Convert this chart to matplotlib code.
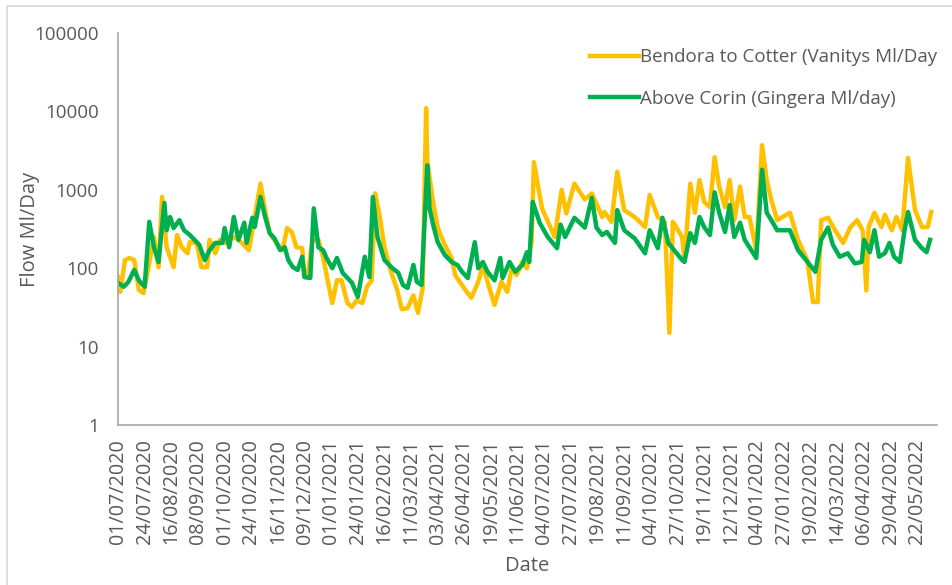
import numpy as np
import matplotlib
matplotlib.use("Agg")
import matplotlib.pyplot as plt
import matplotlib.dates as mdates
from matplotlib.ticker import FixedLocator, FuncFormatter
from matplotlib.patches import Rectangle

plt.rcParams['font.family'] = ['Open Sans', 'DejaVu Sans']

## Flow records, days counted from 1 July 2020

start = np.datetime64('2020-07-01')

bendora_day = [0, 2, 6, 10, 14, 18, 22, 27, 31, 35, 38, 42, 48, 51, 55, 60, 62, 68, 72, 77,
               79, 84, 88, 92, 101, 107, 113, 116, 123, 127, 131, 135, 142, 146, 150, 154, 159, 161, 164, 168,
               173, 177, 181, 185, 189, 193, 198, 202, 206, 211, 215, 219, 222, 226, 230, 236, 241, 245, 250, 255,
               259, 263, 266, 267, 272, 276, 282, 288, 291, 295, 301, 305, 311, 315, 319, 325, 331, 336, 340, 344,
               349, 353, 357, 359, 366, 377, 383, 387, 394, 403, 409, 418, 420, 426, 431, 437, 446, 455, 459, 466,
               472, 476, 479, 487, 489, 494, 498, 502, 506, 511, 515, 519, 524, 528, 532, 537, 541, 545, 551, 556,
               560, 564, 569, 580, 587, 595, 600, 604, 607, 613, 619, 626, 632, 638, 643, 646, 648, 653, 659, 662,
               668, 672, 677, 682, 688, 694, 699, 702]
bendora_flow = [77, 50, 127, 135, 127, 53, 48, 117, 250, 103, 810, 185, 103, 265, 185, 155, 215, 210, 103, 103,
                230, 155, 230, 210, 250, 210, 170, 305, 1200, 550, 280, 230, 170, 325, 290, 185, 180, 77, 87, 230,
                230, 140, 70, 36, 70, 70, 36, 32, 39, 36, 58, 70, 900, 450, 185, 87, 53, 30, 31, 45,
                27, 56, 11000, 2300, 700, 325, 200, 135, 82, 67, 50, 42, 67, 110, 67, 34, 67, 50, 100, 82,
                120, 100, 215, 2250, 580, 250, 1000, 500, 1200, 750, 900, 450, 520, 390, 1700, 550, 450, 335, 860, 450,
                390, 15, 390, 250, 127, 1200, 510, 1330, 700, 600, 2600, 1100, 600, 1330, 410, 1100, 450, 450, 170, 3700,
                1330, 740, 410, 510, 230, 127, 37, 37, 410, 440, 305, 210, 330, 410, 300, 52, 335, 510, 335, 480,
                305, 450, 305, 2550, 550, 335, 335, 520]

corin_day = [0, 5, 9, 14, 18, 23, 27, 31, 35, 40, 42, 45, 48, 53, 57, 62, 70, 75, 79, 84,
             90, 92, 96, 100, 104, 109, 111, 116, 118, 123, 127, 131, 135, 140, 144, 147, 151, 155, 159, 161,
             166, 169, 173, 177, 180, 185, 189, 194, 202, 207, 213, 217, 220, 224, 230, 236, 242, 246, 250, 255,
             258, 262, 267, 269, 272, 276, 282, 288, 293, 297, 302, 308, 311, 315, 319, 325, 330, 332, 338, 343,
             349, 353, 355, 358, 364, 371, 379, 382, 386, 394, 403, 409, 413, 418, 422, 429, 431, 437, 446, 455,
             459, 466, 470, 475, 487, 489, 494, 498, 502, 506, 511, 515, 519, 524, 528, 532, 537, 541, 551, 556,
             560, 564, 569, 580, 587, 602, 607, 613, 617, 623, 630, 636, 642, 644, 649, 653, 657, 662, 666, 670,
             675, 679, 682, 688, 694, 698, 701]
corin_flow = [65, 58, 67, 95, 70, 58, 390, 185, 120, 680, 305, 450, 325, 410, 305, 265, 200, 127, 170, 210,
              210, 325, 185, 450, 230, 380, 210, 440, 335, 810, 450, 280, 240, 170, 185, 127, 103, 95, 140, 77,
              75, 580, 185, 170, 135, 100, 135, 87, 65, 43, 140, 77, 810, 250, 127, 103, 87, 61, 56, 110,
              67, 61, 2050, 580, 360, 215, 148, 120, 110, 90, 75, 215, 100, 120, 90, 70, 135, 75, 120, 90,
              110, 160, 120, 700, 380, 250, 180, 360, 250, 440, 330, 790, 330, 265, 290, 210, 550, 305, 240, 155,
              305, 180, 440, 210, 127, 120, 280, 210, 450, 335, 265, 930, 510, 290, 640, 250, 380, 230, 135, 1800,
              510, 410, 305, 305, 170, 90, 230, 330, 200, 140, 155, 115, 120, 230, 160, 305, 140, 155, 210, 140,
              120, 305, 520, 230, 180, 160, 230]

tick_step = 23   # days between date labels
axis_days = 707

bendora_dates = start + np.array(bendora_day, dtype='timedelta64[D]')
corin_dates = start + np.array(corin_day, dtype='timedelta64[D]')

fig = plt.figure(figsize=(9.52, 5.85), dpi=100)
ax = fig.add_axes([118 / 952, 1 - 425 / 585, (937 - 118) / 952, (425 - 33) / 585])

ax.plot(bendora_dates, bendora_flow, color='#FFC000', lw=3.2, solid_joinstyle='round',
        label='Bendora to Cotter (Vanitys Ml/Day')
ax.plot(corin_dates, corin_flow, color='#00B050', lw=3.2, solid_joinstyle='round',
        label='Above Corin (Gingera Ml/day)')

ax.set_yscale('log')
ax.set_ylim(1, 100000)
ax.yaxis.set_major_locator(FixedLocator([1, 10, 100, 1000, 10000, 100000]))
ax.yaxis.set_minor_locator(FixedLocator([]))
ax.yaxis.set_major_formatter(FuncFormatter(lambda v, p: f'{v:.0f}'))

ax.set_xlim(start, start + np.timedelta64(axis_days, 'D'))
ticks = start + np.arange(0, axis_days, tick_step).astype('timedelta64[D]')
ax.set_xticks(ticks)
ax.xaxis.set_major_formatter(mdates.DateFormatter('%d/%m/%Y'))

ax.tick_params(axis='x', length=0, pad=10, labelsize=14.2, labelcolor='#595959', rotation=90)
ax.tick_params(axis='y', length=0, pad=14, labelsize=13.5, labelcolor='#595959')

for side in ['top', 'right']:
    ax.spines[side].set_visible(False)
for side in ['left', 'bottom']:
    ax.spines[side].set_color('#A6A6A6')
    ax.spines[side].set_linewidth(1.2)

ax.set_ylabel('Flow Ml/Day', fontsize=14.5, color='#595959')
ax.yaxis.set_label_coords((40 - 118) / 819, 0.5)
ax.set_xlabel('Date', fontsize=14.5, color='#595959')
ax.xaxis.set_label_coords((527 - 118) / 819, -(556 - 425) / 392)

fig.legend(loc='upper left', bbox_to_anchor=(581 / 952, 1 - 39 / 585), frameon=False,
           fontsize=13.5, handlelength=2.6, handletextpad=0.05, labelspacing=1.25,
           borderpad=0, labelcolor='#595959')

# light chart-area border
fig.patches.append(Rectangle((7 / 952, -0.1), 1.2, 1.1 - 6 / 585, transform=fig.transFigure,
                             fill=False, edgecolor='#D9D9D9', lw=1.2))

fig.savefig('out.png', dpi=100)
